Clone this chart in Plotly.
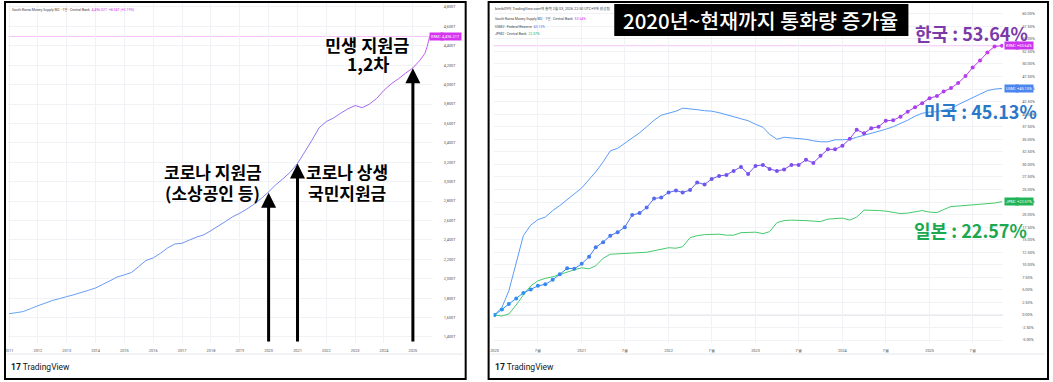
import plotly.graph_objects as go
import pandas as pd
import numpy as np

W, H = 1053, 382


def px(x):
    return x / W


def py(y):
    return 1 - y / H


# ---------------- data: left panel (South Korea M2, trillion won) ----------------
left_dates = [
    "2011-01-01", "2011-04-01", "2011-07-01", "2011-10-01",
    "2012-01-01", "2012-04-01", "2012-07-01", "2012-10-01",
    "2013-01-01", "2013-04-01", "2013-07-01", "2013-10-01",
    "2014-01-01", "2014-04-01", "2014-07-01", "2014-10-01",
    "2015-01-01", "2015-04-01", "2015-07-01", "2015-10-01",
    "2016-01-01", "2016-04-01", "2016-07-01", "2016-10-01",
    "2017-01-01", "2017-04-01", "2017-07-01", "2017-10-01",
    "2018-01-01", "2018-04-01", "2018-07-01", "2018-10-01",
    "2019-01-01", "2019-04-01", "2019-07-01", "2019-10-01",
    "2020-01-01", "2020-04-01", "2020-07-01", "2020-10-01",
    "2021-01-01", "2021-04-01", "2021-07-01", "2021-10-01",
    "2022-01-01", "2022-04-01", "2022-07-01", "2022-10-01",
    "2023-01-01", "2023-04-01", "2023-07-01", "2023-10-01",
    "2024-01-01", "2024-04-01", "2024-07-01", "2024-10-01",
    "2025-01-01", "2025-04-01", "2025-06-01", "2025-07-01", "2025-08-01",
]
left_values = [
    1640, 1650, 1662, 1692,
    1722, 1748, 1776, 1795,
    1816, 1835, 1858, 1880,
    1905, 1942, 1978, 2018,
    2040, 2065, 2125, 2188,
    2215, 2262, 2318, 2358,
    2366, 2398, 2428, 2452,
    2495, 2542, 2588, 2638,
    2675, 2718, 2768, 2828,
    2895, 2968, 3030, 3098,
    3188, 3305, 3425, 3555,
    3620, 3656, 3705, 3750,
    3785, 3762, 3800, 3858,
    3942, 4008, 4060, 4118,
    4172, 4252, 4320, 4392, 4496,
]
left_y_ticks = list(range(1400, 4801, 200))
left_y_labels = [f"{v:,}T" for v in left_y_ticks]
left_years = list(range(2011, 2026))
left_last = 4496.21

# arrows on left panel (date, tip value)
arrow_dates = ["2020-01-01", "2021-01-01", "2025-01-01"]
arrow_tips = [2885, 3188, 4170]

# ---------------- data: right panel (% change since Jan 2020) ----------------
right_months = pd.date_range("2020-01-01", periods=71, freq="MS")
kr_growth = [
    0.0, 1.1, 2.2, 3.3, 4.4, 5.1, 5.8, 6.1, 7.0, 8.1,
    9.3, 9.2, 10.2, 11.6, 13.5, 14.5, 15.8, 16.5, 17.5, 19.9,
    20.3, 21.4, 23.2, 23.4, 24.4, 24.8, 24.4, 24.9, 26.4, 26.0,
    27.1, 27.7, 27.9, 28.7, 29.5, 28.1, 29.7, 29.9, 29.1, 28.7,
    29.0, 29.9, 29.9, 30.9, 30.3, 31.7, 33.0, 33.0, 33.7, 35.1,
    36.9, 36.2, 37.2, 37.5, 38.7, 38.8, 39.5, 40.5, 41.4, 42.2,
    43.2, 43.6, 44.5, 45.2, 46.2, 47.6, 49.3, 50.7, 52.3, 53.5,
    53.64,
]
us_growth = [
    0.0, 1.5, 4.8, 10.5, 15.8, 17.9, 19.0, 19.5, 20.8, 21.8,
    23.0, 24.1, 25.3, 27.0, 28.5, 30.5, 32.7, 33.2, 34.2, 35.3,
    36.3, 37.5, 38.8, 39.8, 40.2, 40.6, 41.2, 41.1, 40.9, 40.7,
    40.6, 40.3, 39.9, 39.6, 39.2, 38.7, 38.0, 37.4, 36.0, 35.0,
    35.4, 35.3, 35.1, 35.0, 34.7, 34.5, 34.5, 34.9, 34.9, 35.0,
    35.4, 35.8, 36.1, 36.5, 37.0, 37.5, 38.1, 38.8, 39.6, 40.2,
    40.4, 40.5, 40.8, 41.1, 41.9, 42.6, 43.4, 44.0, 44.7, 45.0,
    45.13,
]
jp_growth = [
    0.0, -0.2, 0.2, 2.0, 4.0, 5.8, 6.8, 7.3, 7.6, 8.1,
    8.5, 9.0, 9.4, 9.2, 9.8, 11.3, 12.1, 12.2, 12.3, 12.3,
    12.4, 12.5, 12.8, 13.1, 13.4, 13.3, 13.6, 15.4, 15.8, 16.0,
    16.1, 16.1, 15.9, 15.9, 16.4, 16.5, 16.5, 16.2, 16.6, 18.4,
    18.8, 18.9, 18.9, 18.8, 18.7, 18.6, 19.1, 19.2, 19.3, 18.9,
    19.5, 20.9, 20.9, 20.8, 20.7, 20.5, 20.2, 20.3, 20.6, 20.8,
    20.5, 20.4, 21.0, 21.6, 21.7, 21.8, 21.9, 22.0, 22.1, 22.3,
    22.57,
]
right_tick_dates = ["2020-01-01", "2020-07-01", "2021-01-01", "2021-07-01",
                    "2022-01-01", "2022-07-01", "2023-01-01", "2023-07-01",
                    "2024-01-01", "2024-07-01", "2025-01-01", "2025-07-01"]
right_tick_labels = ["2020", "7월", "2021", "7월", "2022", "7월",
                     "2023", "7월", "2024", "7월", "2025", "7월"]
right_y_ticks = [round(v, 2) for v in np.arange(-5, 60.01, 2.5)]
right_y_labels = [f"{v:.2f}%" for v in right_y_ticks]

# ---------------- styling helpers ----------------
LEFT_STOPS = [(0.0, (98, 166, 246)), (0.6, (118, 138, 242)), (0.8, (160, 108, 242)), (1.0, (200, 86, 242))]
KR_STOPS = [(0.0, (40, 150, 240)), (0.25, (75, 118, 240)), (0.45, (110, 84, 236)),
            (0.75, (150, 70, 236)), (1.0, (200, 58, 236))]


def grad(stops, t):
    for (t0, c0), (t1, c1) in zip(stops[:-1], stops[1:]):
        if t <= t1:
            f = 0 if t1 == t0 else (t - t0) / (t1 - t0)
            c = [round(a + (b - a) * f) for a, b in zip(c0, c1)]
            return f"rgb({c[0]},{c[1]},{c[2]})"
    c = stops[-1][1]
    return f"rgb({c[0]},{c[1]},{c[2]})"


fig = go.Figure()

# left gradient line
ld = pd.to_datetime(left_dates)
n = len(left_values)
for i in range(n - 1):
    fig.add_trace(go.Scatter(
        x=ld[i:i + 2], y=left_values[i:i + 2], mode="lines",
        line=dict(color=grad(LEFT_STOPS, i / (n - 2)), width=1.0),
        xaxis="x", yaxis="y", hoverinfo="skip", showlegend=False))

# right: US and Japan
fig.add_trace(go.Scatter(x=right_months, y=us_growth, mode="lines",
                         line=dict(color="#5b9cf6", width=1.0),
                         xaxis="x2", yaxis="y2", hoverinfo="skip", showlegend=False))
fig.add_trace(go.Scatter(x=right_months, y=jp_growth, mode="lines",
                         line=dict(color="#45c96c", width=1.0),
                         xaxis="x2", yaxis="y2", hoverinfo="skip", showlegend=False))
# right: Korea gradient line + markers
m = len(kr_growth)
for i in range(m - 1):
    fig.add_trace(go.Scatter(
        x=right_months[i:i + 2], y=kr_growth[i:i + 2], mode="lines",
        line=dict(color=grad(KR_STOPS, i / (m - 2)), width=1.0),
        xaxis="x2", yaxis="y2", hoverinfo="skip", showlegend=False))
fig.add_trace(go.Scatter(
    x=right_months, y=kr_growth, mode="markers",
    marker=dict(size=4, color=[grad(KR_STOPS, i / (m - 1)) for i in range(m)]),
    xaxis="x2", yaxis="y2", hoverinfo="skip", showlegend=False))

GRID = "#f1f2f5"
TICKF = dict(size=3.9, color="#555555", family="Roboto")

fig.update_layout(
    width=W, height=382, autosize=False,
    margin=dict(l=0, r=0, t=0, b=0),
    paper_bgcolor="white", plot_bgcolor="white",
    showlegend=False,
    xaxis=dict(domain=[px(5), px(430)], type="date",
               range=["2010-12-19", "2025-08-28"],
               tickvals=[f"{y}-01-01" for y in left_years],
               ticktext=[str(y) for y in left_years],
               tickfont=TICKF, showgrid=True, gridcolor=GRID, gridwidth=1,
               zeroline=False, showline=False, ticks="", ticklabelstandoff=4,
               anchor="y"),
    yaxis=dict(domain=[py(343), py(3)], range=[1338, 4841], side="right",
               tickvals=left_y_ticks, ticktext=left_y_labels,
               tickfont=TICKF, showgrid=True, gridcolor=GRID, gridwidth=1,
               zeroline=False, showline=False, ticks="", ticklabelstandoff=11,
               anchor="x"),
    xaxis2=dict(domain=[px(492), px(1003)], type="date",
                range=["2019-12-28", "2025-11-06"],
                tickvals=right_tick_dates, ticktext=right_tick_labels,
                tickfont=TICKF, showgrid=True, gridcolor=GRID, gridwidth=1,
                zeroline=False, showline=False, ticks="", ticklabelstandoff=4,
                anchor="y2"),
    yaxis2=dict(domain=[py(343), py(3)], range=[-5.58, 62.15], side="right",
                tickvals=right_y_ticks, ticktext=right_y_labels,
                tickfont=TICKF, showgrid=True, gridcolor=GRID, gridwidth=1,
                zeroline=False, showline=False, ticks="", ticklabelstandoff=18,
                anchor="x2"),
)

shapes = [
    # panel frames
    dict(type="rect", xref="paper", yref="paper", x0=px(2), x1=px(464), y0=py(379), y1=py(2),
         line=dict(color="black", width=2), fillcolor="rgba(0,0,0,0)", layer="above"),
    dict(type="rect", xref="paper", yref="paper", x0=px(487), x1=px(1048), y0=py(379), y1=py(2),
         line=dict(color="black", width=2), fillcolor="rgba(0,0,0,0)", layer="above"),
    # bottom separators
    dict(type="line", xref="paper", yref="paper", x0=px(4), x1=px(461), y0=py(354), y1=py(354),
         line=dict(color="#e4e6eb", width=1)),
    dict(type="line", xref="paper", yref="paper", x0=px(489), x1=px(1045), y0=py(354), y1=py(354),
         line=dict(color="#e4e6eb", width=1)),
    # price lines
    dict(type="line", xref="x domain", yref="y", x0=0, x1=1, y0=left_last, y1=left_last,
         line=dict(color="#f4c4f8", width=1), layer="below"),
    dict(type="line", xref="x2 domain", yref="y2", x0=0, x1=1, y0=kr_growth[-1], y1=kr_growth[-1],
         line=dict(color="#f4c4f8", width=1), layer="below"),
    # zero line
    dict(type="line", xref="x2 domain", yref="y2", x0=0, x1=1, y0=0, y1=0,
         line=dict(color="#cfd2d8", width=1), layer="below"),
    # title box
    dict(type="rect", xref="paper", yref="paper", x0=px(613), x1=px(908), y0=py(36), y1=py(4),
         line=dict(width=0), fillcolor="black", layer="above"),
]
fig.update_layout(shapes=shapes)

ann = []
KR_FONT = "Noto Sans CJK KR"
SMALL = dict(size=3.5, color="#444444", family="Roboto, Noto Sans CJK KR")


def text(x, y, s, size, color, bold=True, anchor="center"):
    ann.append(dict(x=px(x), y=py(y), xref="paper", yref="paper", text=f"<b>{s}</b>" if bold else s,
                    showarrow=False, xanchor=anchor, yanchor="middle",
                    font=dict(size=size, color=color, family=KR_FONT)))


# left arrows
for d, tip in zip(arrow_dates, arrow_tips):
    ann.append(dict(x=d, y=tip, xref="x", yref="y", ax=d, ay=1338, axref="x", ayref="y",
                    showarrow=True, arrowhead=2, arrowsize=1, arrowwidth=3,
                    arrowcolor="black", text=""))

# left annotations
text(365, 44, "민생 지원금", 17.5, "black")
text(366, 64, "1,2차", 17.5, "black")
text(211, 172, "코로나 지원금", 17, "black")
text(210, 192, "(소상공인 등)", 17, "black")
text(345, 172, "코로나 상생", 17, "black")
text(345, 192, "국민지원금", 17, "black")

# right annotations
ann.append(dict(x=px(760), y=py(20), xref="paper", yref="paper",
                text="2020년~현재까지 통화량 증가율", showarrow=False,
                xanchor="center", yanchor="middle",
                font=dict(size=20.5, color="white", family=KR_FONT, weight=500)))
text(971, 33, "한국 : 53.64%", 18, "#7a3aa8")
text(980, 111, "미국 : 45.13%", 18, "#2a78c8")
text(970, 230, "일본 : 22.57%", 18, "#1ca84f")

# header texts
ann.append(dict(x=px(7), y=py(10), xref="paper", yref="paper", showarrow=False,
                xanchor="left", yanchor="middle", font=SMALL,
                text="South Korea Money Supply M2 · 1달 · Central Bank  "
                     "<span style='color:#d535f0'>4,496.02T  +8.34T (+0.19%)</span>"))
ann.append(dict(x=px(491), y=py(8), xref="paper", yref="paper", showarrow=False,
                xanchor="left", yanchor="middle", font=dict(SMALL, size=3.7),
                text="bimik09의 TradingView.com에 출력 2월 03, 2026 22:50 UTC+9에 생성됨"))
ann.append(dict(x=px(491), y=py(19), xref="paper", yref="paper", showarrow=False,
                xanchor="left", yanchor="middle", font=SMALL,
                text="South Korea Money Supply M2 · 1달 · Central Bank  "
                     "<span style='color:#d535f0'>53.64%</span>"))
ann.append(dict(x=px(491), y=py(26.5), xref="paper", yref="paper", showarrow=False,
                xanchor="left", yanchor="middle", font=SMALL,
                text="USM2 · Federal Reserve  <span style='color:#4a86f0'>45.13%</span>"))
ann.append(dict(x=px(491), y=py(33.5), xref="paper", yref="paper", showarrow=False,
                xanchor="left", yanchor="middle", font=SMALL,
                text="JPM2 · Central Bank  <span style='color:#22b356'>22.57%</span>"))

# TradingView marks
for x0 in (6, 491):
    ann.append(dict(x=px(x0), y=py(367), xref="paper", yref="paper", showarrow=False,
                    xanchor="left", yanchor="middle",
                    font=dict(size=8.5, color="#131722", family="Roboto"),
                    text="<b>17</b> TradingView"))


# price-scale tags
def tag(x, yval, yref, s, color):
    ann.append(dict(x=px(x), y=yval, xref="paper", yref=yref, showarrow=False,
                    xanchor="left", yanchor="middle", text=s, bgcolor=color, borderpad=1,
                    font=dict(size=3.9, color="white", family="Roboto")))


tag(427, left_last, "y", "KRM2", "#d535f0")
tag(438, left_last, "y", f"{left_last:,.2f}T", "#d535f0")
tag(1004, kr_growth[-1], "y2", "KRM2", "#cc33ee")
tag(1015, kr_growth[-1], "y2", f"+{kr_growth[-1]:.2f}%", "#cc33ee")
tag(1004, us_growth[-1], "y2", "USM2", "#4a86f0")
tag(1015, us_growth[-1], "y2", f"+{us_growth[-1]:.2f}%", "#4a86f0")
tag(1004, jp_growth[-1], "y2", "JPM2", "#22b356")
tag(1015, jp_growth[-1], "y2", f"+{jp_growth[-1]:.2f}%", "#22b356")

fig.update_layout(annotations=ann)
fig.write_html("out.html", config={"displayModeBar": False, "staticPlot": True},
               post_script="document.body.style.margin='0';document.body.style.overflow='hidden';")
